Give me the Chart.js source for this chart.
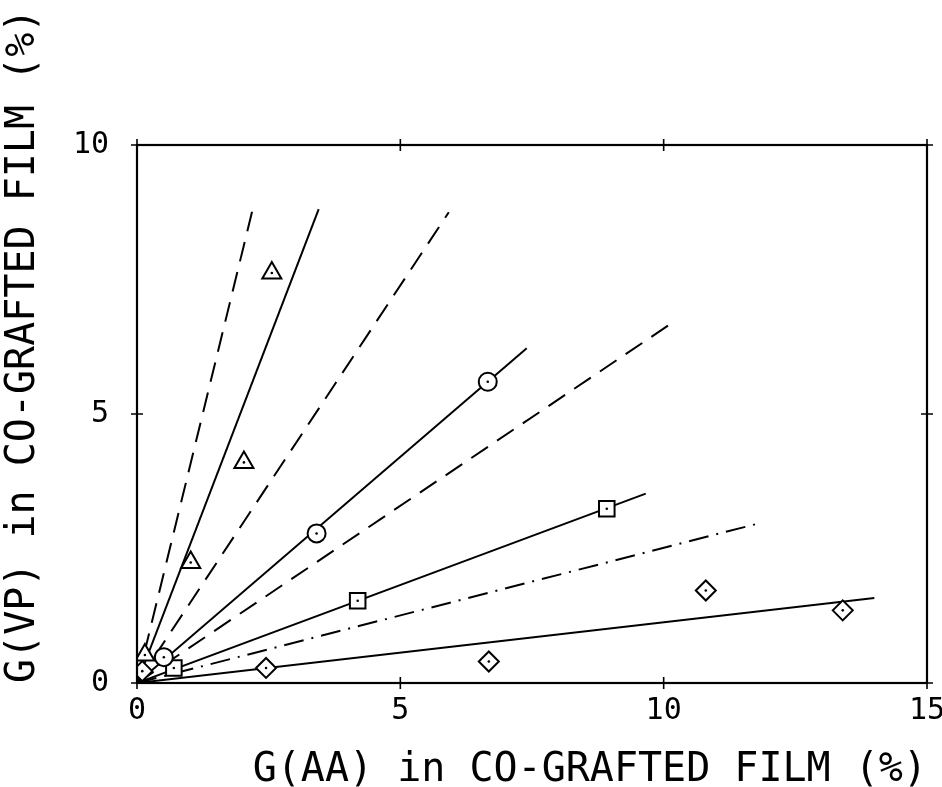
<!DOCTYPE html>
<html>
<head>
<meta charset="utf-8">
<script src="https://cdn.jsdelivr.net/npm/chart.js@4/dist/chart.umd.min.js"></script>
<style>
  html, body { margin: 0; padding: 0; background: #fff; }
  #wrap { width: 942px; height: 787px; }
</style>
</head>
<body>
<div id="wrap"><canvas id="graftChart" width="942" height="787"></canvas></div>
<script>
// data: G(AA) vs G(VP), %
const triAA = [0.15, 1.02, 2.03, 2.56];
const triVP = [0.52, 2.24, 4.10, 7.62];
const circAA = [0.51, 3.41, 6.66];
const circVP = [0.48, 2.78, 5.60];
const sqAA = [0.70, 4.19, 8.92];
const sqVP = [0.28, 1.53, 3.24];
const diaAA = [0.10, 2.45, 6.68, 10.80, 13.40];
const diaVP = [0.22, 0.28, 0.40, 1.72, 1.35];

// fitted lines, all from the origin to these end points
const lineEndAA = [2.22, 3.45, 5.92, 7.40, 10.17, 9.66, 11.78, 14.00];
const lineEndVP = [8.90, 8.81, 8.75, 6.22, 6.70, 3.52, 2.96, 1.58];
const lineKind = ['dash', 'solid', 'dash', 'solid', 'dash', 'solid', 'dashdot', 'solid'];

const xTicks = [0, 5, 10, 15];
const yTicks = [0, 5, 10];

const FONT = "'DejaVu Sans Mono', 'Liberation Mono', monospace";
const dashes = { solid: [], dash: [20, 11], dashdot: [20, 8, 2, 8] };

function pts(xs, ys) {
    return xs.map((x, i) => ({ x: x, y: ys[i] }));
}

const lineSets = lineEndAA.map((x, i) => ({
    type: 'line',
    data: [{ x: 0, y: 0 }, { x: x, y: lineEndVP[i] }],
    borderColor: '#000',
    borderWidth: 2,
    borderDash: dashes[lineKind[i]],
    pointRadius: 0,
    fill: false,
    order: 2
}));

function markerSet(xs, ys, style, r) {
    return {
        type: 'scatter',
        data: pts(xs, ys),
        pointStyle: style,
        pointRadius: r,
        pointBackgroundColor: '#fff',
        pointBorderColor: '#000',
        pointBorderWidth: 2,
        order: 1
    };
}

function dotSet(xs, ys) {
    return {
        type: 'scatter',
        data: pts(xs, ys),
        pointStyle: 'circle',
        pointRadius: 1.3,
        pointBackgroundColor: '#000',
        pointBorderWidth: 0,
        order: 0
    };
}

// frame + little cross ticks like the plotter output
const framePlugin = {
    id: 'frame',
    afterDatasetsDraw(chart) {
        const { ctx, chartArea: a, scales } = chart;
        ctx.save();
        ctx.strokeStyle = '#000';
        ctx.lineWidth = 2.2;
        ctx.strokeRect(a.left, a.top, a.right - a.left, a.bottom - a.top);
        ctx.lineWidth = 1.6;
        ctx.beginPath();
        xTicks.forEach(v => {
            const px = scales.x.getPixelForValue(v);
            ctx.moveTo(px, a.bottom - 6); ctx.lineTo(px, a.bottom + 6);
            ctx.moveTo(px, a.top - 6); ctx.lineTo(px, a.top + 6);
        });
        yTicks.forEach(v => {
            const py = scales.y.getPixelForValue(v);
            ctx.moveTo(a.left - 6, py); ctx.lineTo(a.left + 6, py);
            ctx.moveTo(a.right - 6, py); ctx.lineTo(a.right + 6, py);
        });
        ctx.stroke();
        ctx.restore();
    }
};

const ctx = document.getElementById('graftChart').getContext('2d');
new Chart(ctx, {
    type: 'scatter',
    data: {
        datasets: [
            ...lineSets,
            markerSet(triAA, triVP, 'triangle', 11),
            markerSet(circAA, circVP, 'circle', 9),
            markerSet(sqAA, sqVP, 'rect', 11),
            markerSet(diaAA, diaVP, 'rectRot', 10),
            dotSet(triAA, triVP),
            dotSet(circAA, circVP),
            dotSet(sqAA, sqVP),
            dotSet(diaAA, diaVP)
        ]
    },
    options: {
        responsive: false,
        animation: false,
        layout: { padding: { top: 145, right: 15, left: 0, bottom: 0 } },
        plugins: {
            legend: { display: false },
            tooltip: { enabled: false }
        },
        scales: {
            x: {
                type: 'linear',
                min: 0,
                max: 15,
                afterFit: (s) => {
                    s.height = 104;
                    s.paddingLeft = 0;
                    s.paddingRight = 0;
                },
                afterBuildTicks: (s) => { s.ticks = xTicks.map(v => ({ value: v })); },
                grid: { drawOnChartArea: false, drawTicks: false },
                border: { display: false },
                ticks: {
                    color: '#000',
                    padding: 10,
                    font: { family: FONT, size: 30 }
                },
                title: {
                    display: true,
                    text: 'G(AA) in CO-GRAFTED FILM (%)',
                    align: 'end',
                    color: '#000',
                    font: { family: FONT, size: 40, lineHeight: 0.8 },
                    padding: { top: 0, bottom: 0 }
                }
            },
            y: {
                type: 'linear',
                min: 0,
                max: 10,
                afterFit: (s) => {
                    s.width = 137;
                    s.paddingTop = 0;
                    s.paddingBottom = 0;
                },
                afterBuildTicks: (s) => { s.ticks = yTicks.map(v => ({ value: v })); },
                grid: { drawOnChartArea: false, drawTicks: false },
                border: { display: false },
                ticks: {
                    color: '#000',
                    padding: 28,
                    font: { family: FONT, size: 30 }
                },
                title: {
                    display: true,
                    text: 'G(VP) in CO-GRAFTED FILM (%)',
                    align: 'start',
                    color: '#000',
                    font: { family: FONT, size: 40, lineHeight: 1.2 },
                    padding: { top: 0, bottom: 0 }
                }
            }
        }
    },
    plugins: [framePlugin]
});
</script>
</body>
</html>
